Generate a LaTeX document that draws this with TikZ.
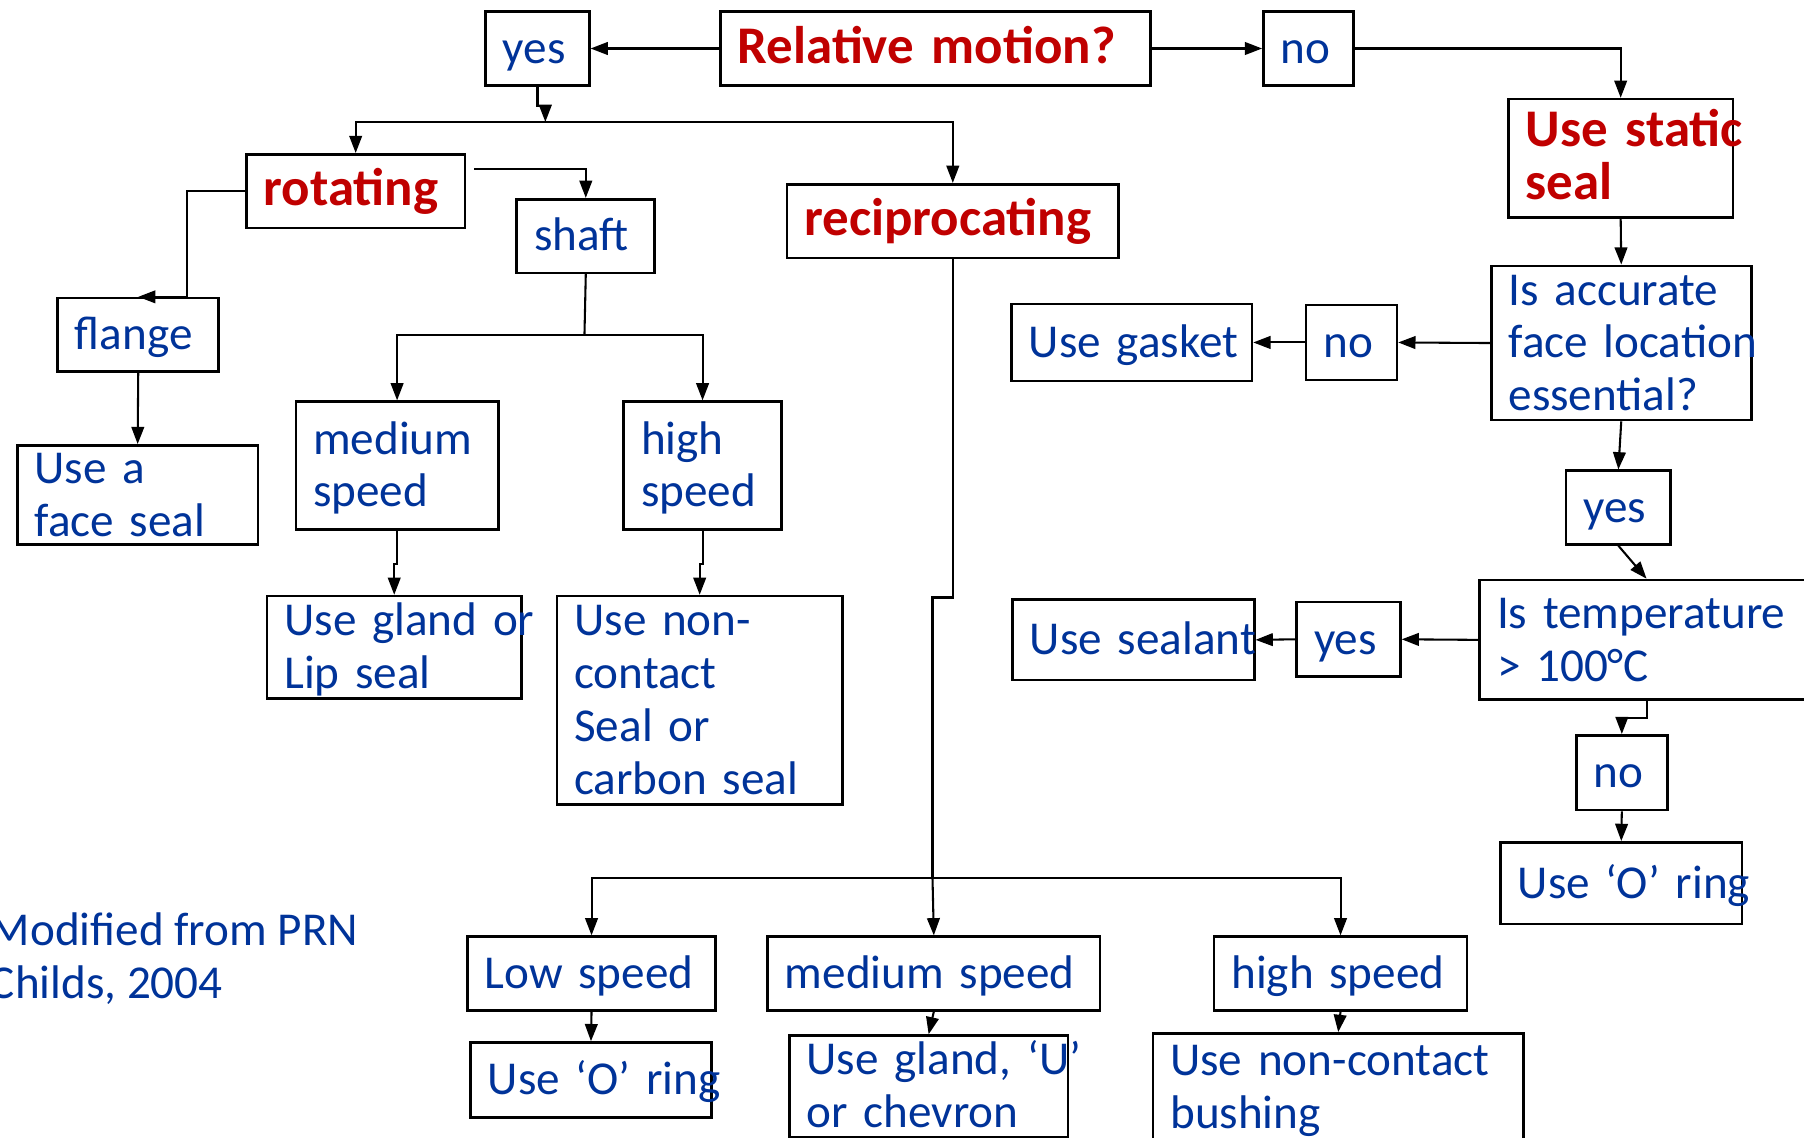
\documentclass[tikz,border=0pt]{standalone}
\usepackage{fontspec}
\setmainfont{Carlito}
\usetikzlibrary{arrows.meta}
\definecolor{sealblue}{RGB}{0,51,153}
\definecolor{sealred}{RGB}{192,0,0}
\setlength{\parindent}{0pt}
\begin{document}
\begin{tikzpicture}[x=1pt,y=-1pt,
    box/.style={draw,line width=2.3pt,anchor=north west,align=left,
      inner xsep=15pt,inner ysep=0pt,text=sealblue,
      font=\fontsize{41}{46}\selectfont,
      execute at begin node={\hyphenpenalty=10000\exhyphenpenalty=10000\rule[-7pt]{0pt}{40pt}},
      execute at end node={\rule[-7pt]{0pt}{40pt}}},
    redbox/.style={box,text=sealred,font=\fontsize{46}{46}\selectfont\bfseries},
    wire/.style={line width=1.8pt},
    arr/.style={wire,-{Triangle[length=15pt,width=11pt]}}]
    \useasboundingbox (0,0) rectangle (1568,989);
    \node[redbox,text width=344pt,minimum height=64pt] (motion) at (625,9) {Relative~motion?};
    \node[box,text width=60pt,minimum height=64pt] (yes1) at (421,9) {yes};
    \node[box,text width=48pt,minimum height=64pt] (no1) at (1097,9) {no};
    \node[redbox,text width=165pt,minimum height=103pt] (static) at (1310,85) {Use~static\\seal};
    \node[redbox,text width=160pt,minimum height=64pt] (rot) at (213,133) {rotating};
    \node[box,text width=90pt,minimum height=64pt] (shaft) at (448,172) {shaft};
    \node[redbox,text width=258pt,minimum height=64pt] (recip) at (683,159) {reciprocating};
    \node[box,text width=110pt,minimum height=64pt] (flange) at (49,258) {flange};
    \node[box,text width=179pt,minimum height=84pt] (face) at (14,386) {Use~a\\face~seal};
    \node[box,text width=146pt,minimum height=111pt] (medsp) at (256,348) {medium\\speed};
    \node[box,text width=107pt,minimum height=111pt] (hisp) at (541,348) {high\\speed};
    \node[box,text width=191pt,minimum height=89pt] (lip) at (231,517) {Use~gland~or\\Lip~seal};
    \node[box,text width=218pt,minimum height=181pt] (noncon) at (483,517) {Use~non-\\contact\\Seal~or\\carbon~seal};
    \node[box,text width=196pt,minimum height=134pt] (acc) at (1295,230) {Is~accurate\\face~location\\essential?};
    \node[box,text width=49pt,minimum height=65pt] (no2) at (1134,264) {no};
    \node[box,text width=179pt,minimum height=67pt] (gasket) at (878,263) {Use~gasket};
    \node[box,text width=61pt,minimum height=64pt] (yes2) at (1360,408) {yes};
    \node[box,text width=260pt,minimum height=104pt] (temp) at (1285,503) {Is~temperature\\>~100°C};
    \node[box,text width=60pt,minimum height=65pt] (yes3) at (1126,522) {yes};
    \node[box,text width=180pt,minimum height=70pt] (sealant) at (879,520) {Use~sealant};
    \node[box,text width=49pt,minimum height=65pt] (no3) at (1369,638) {no};
    \node[box,text width=180pt,minimum height=71pt] (oring1) at (1303,731) {Use~‘O’~ring};
    \node[box,text width=186pt,minimum height=64pt] (low) at (405,813) {Low~speed};
    \node[box,text width=259pt,minimum height=64pt] (medr) at (666,813) {medium~speed};
    \node[box,text width=190pt,minimum height=64pt] (hir) at (1054,813) {high~speed};
    \node[box,text width=179pt,minimum height=65pt] (oring2) at (408,905) {Use~‘O’~ring};
    \node[box,text width=212pt,minimum height=88pt] (glandu) at (685,899) {Use~gland,~‘U’\\or~chevron};
    \node[box,text width=292pt,minimum height=93pt] (bushing) at (1001,897) {Use~non-contact\\bushing};
    \node[text=sealblue,font=\fontsize{41}{46}\selectfont,align=left,anchor=west,inner sep=0pt] (credit) at (-9,833) {Modified from PRN\\Childs, 2004};
    \coordinate (bus) at (474,106);
    \coordinate (sbus) at (508,291);
    \coordinate (rbus) at (810.5,763);
    \draw[arr] (motion.west) -- (yes1.east);
    \draw[arr] (motion.east) -- (no1.west);
    \draw[arr] (no1.east) -| (static.north);
    \draw[arr] (static.south) -- (acc.north);
    \draw[arr] (acc.west) -- (no2.east);
    \draw[arr] (no2.west) -- (gasket.east);
    \draw[arr] (acc.south) -- (yes2.north);
    \draw[arr] (yes2.south) -- (temp.north);
    \draw[arr] (temp.west) -- (yes3.east);
    \draw[arr] (yes3.west) -- (sealant.east);
    \draw[arr] (temp.south) -- ++(0,15) -| (no3.north);
    \draw[arr] (no3.south) -- (oring1.north);
    \draw[arr] (yes1.south) -- ++(0,17) -| (bus);
    \draw[arr] (bus) -| (rot.north);
    \draw[arr] (bus) -| (recip.north);
    \draw[arr] ([xshift=7pt,yshift=19pt]rot.east) -| (shaft.north);
    \draw[arr] (rot.west) -| ([xshift=42pt]flange.north) -- (flange.north);
    \draw[arr] (flange.south) -- (face.north);
    \draw[wire] (shaft.south) -- (sbus);
    \draw[arr] (sbus) -| (medsp.north);
    \draw[arr] (sbus) -| (hisp.north);
    \draw[arr] (medsp.south) -- ++(0,29) -| (lip.north);
    \draw[arr] (hisp.south) -- ++(0,29) -| (noncon.north);
    \draw[wire] (recip.south) -- ++(0,294) -| (rbus);
    \draw[arr] (rbus) -- (medr.north);
    \draw[arr] (rbus) -| (low.north);
    \draw[arr] (rbus) -| (hir.north);
    \draw[arr] (low.south) -- (oring2.north);
    \draw[arr] (medr.south) -- (glandu.north);
    \draw[arr] (hir.south) -- (bushing.north);
\end{tikzpicture}
\end{document}
